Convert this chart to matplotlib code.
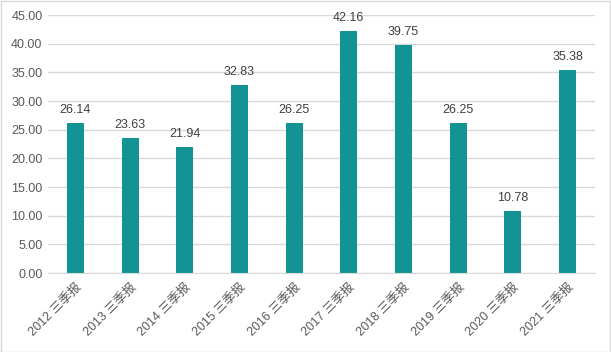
import matplotlib
matplotlib.use("Agg")
import matplotlib.pyplot as plt
from matplotlib.patches import Rectangle

plt.rcParams['font.family'] = ['Liberation Sans', 'Noto Sans CJK SC', 'DejaVu Sans']

categories = ["2012 三季报", "2013 三季报", "2014 三季报", "2015 三季报", "2016 三季报",
              "2017 三季报", "2018 三季报", "2019 三季报", "2020 三季报", "2021 三季报"]
values = [26.14, 23.63, 21.94, 32.83, 26.25, 42.16, 39.75, 26.25, 10.78, 35.38]
yticks = [0, 5, 10, 15, 20, 25, 30, 35, 40, 45]

bar_color = "#139393"
text_color = "#595959"
grid_color = "#D9D9D9"

fig = plt.figure(figsize=(6.11, 3.52), dpi=100)
ax = fig.add_axes([48/611, (352-273)/352, (595-48)/611, (273-15)/352])

x = list(range(len(categories)))
ax.bar(x, values, width=0.31, color=bar_color, zorder=3)
for xi, v in zip(x, values):
    ax.annotate(f"{v:.2f}", (xi, v), xytext=(0, 7.2), textcoords='offset points',
                ha='center', va='baseline', fontsize=9, color="#404040")

ax.set_xlim(-0.5, len(categories) - 0.5)
ax.set_ylim(0, 45)
ax.set_yticks(yticks)
ax.set_yticklabels([f"{t:.2f}" for t in yticks], fontsize=9, color=text_color)
ax.set_xticks(x)
ax.set_xticklabels(categories, rotation=45, ha='right', rotation_mode='anchor',
                   fontsize=9, color=text_color)
ax.tick_params(axis='both', length=0, pad=4)
ax.tick_params(axis='x', pad=6)
ax.yaxis.grid(True, color=grid_color, linewidth=1, zorder=0)
for s in ['top', 'right', 'left']:
    ax.spines[s].set_visible(False)
ax.spines['bottom'].set_color(grid_color)
ax.spines['bottom'].set_zorder(4)

fig.patches.append(Rectangle((0.5/611, 0.5/352), 609.5/611, 350.5/352, transform=fig.transFigure,
                             fill=False, edgecolor="#D9D9D9", linewidth=1))

fig.savefig("out.png", dpi=100)
